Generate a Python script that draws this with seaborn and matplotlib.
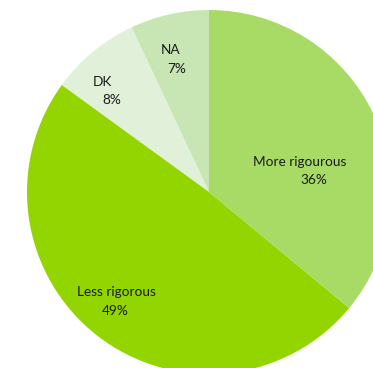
import matplotlib
matplotlib.use("Agg")
import matplotlib.pyplot as plt
import seaborn as sns

categories = ["NA", "DK", "Less rigorous", "More rigourous"]
values = [7, 8, 49, 36]
pct_labels = ["7%", "8%", "49%", "36%"]
colors_hex = ["#C8E6B4", "#E1F0D8", "#93D500", "#A8DB66"]

sns.set_theme(style="white")
plt.rcParams['font.family'] = ['Lato', 'DejaVu Sans']

W, H = 373, 368
cx, cy, R = 209, 192, 182
fig = plt.figure(figsize=(W / 100, H / 100), dpi=100)
ax = fig.add_axes([0, 0, 1, 1])
palette = sns.color_palette(colors_hex)
ax.pie(values, colors=palette, startangle=90, counterclock=True,
       radius=1, center=(0, 0), wedgeprops=dict(linewidth=0))
ax.set_xlim(-cx / R, (W - cx) / R)
ax.set_ylim(-(H - cy) / R, cy / R)
ax.set_aspect('equal')
ax.axis('off')

def px(x, y):
    return (x - cx) / R, (cy - y) / R

# label layout (pixel positions of name and percent lines)
name_pos = [(171, 50), (102, 82), (116.5, 292), (300, 162)]
pct_pos = [(177, 69), (112, 100), (115, 311), (314, 180)]
for name, pct, npos, ppos in zip(categories, pct_labels, name_pos, pct_pos):
    ax.text(*px(*npos), name, ha='center', va='center', fontsize=9.8, color='#1a1a1a')
    ax.text(*px(*ppos), pct, ha='center', va='center', fontsize=9.8, color='#1a1a1a')

fig.savefig("out.png", dpi=100)
